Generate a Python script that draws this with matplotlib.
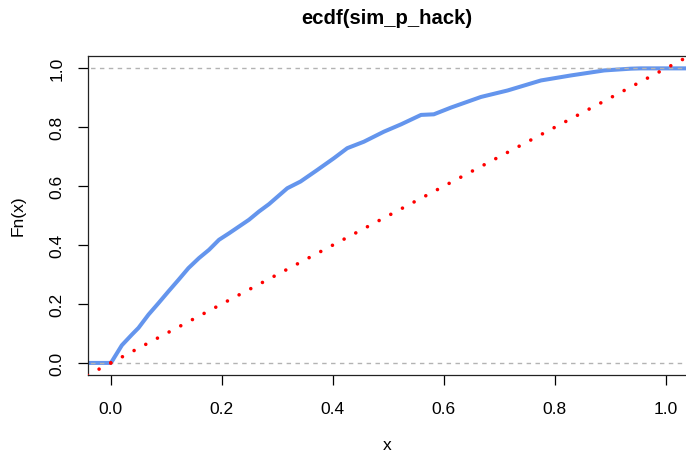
import matplotlib
matplotlib.use("Agg")
import matplotlib.pyplot as plt
import numpy as np

plt.rcParams['font.family'] = ['Liberation Sans', 'DejaVu Sans']
plt.rcParams['lines.scale_dashes'] = False

# ECDF readings (x, Fn(x))
ecdf_x = [-0.05, 0.0, 0.002, 0.02, 0.038, 0.05, 0.068, 0.086, 0.104, 0.122, 0.14,
          0.159, 0.177, 0.195, 0.213, 0.231, 0.249, 0.267, 0.285, 0.318, 0.342,
          0.372, 0.402, 0.426, 0.456, 0.492, 0.523, 0.559, 0.582, 0.613, 0.667,
          0.715, 0.775, 0.829, 0.889, 0.937, 0.955, 1.1]
ecdf_y = [0.0, 0.0, 0.005, 0.06, 0.096, 0.119, 0.164, 0.203, 0.243, 0.282, 0.322,
          0.356, 0.384, 0.418, 0.44, 0.463, 0.486, 0.514, 0.539, 0.593, 0.616,
          0.655, 0.695, 0.729, 0.751, 0.785, 0.81, 0.842, 0.844, 0.867, 0.903,
          0.925, 0.959, 0.976, 0.993, 0.999, 1.0, 1.0]

x_ticks = [0.0, 0.2, 0.4, 0.6, 0.8, 1.0]
y_ticks = [0.0, 0.2, 0.4, 0.6, 0.8, 1.0]
tick_labels_x = ["0.0", "0.2", "0.4", "0.6", "0.8", "1.0"]
tick_labels_y = ["0.0", "0.2", "0.4", "0.6", "0.8", "1.0"]

W, H = 686, 456
fig = plt.figure(figsize=(W / 100, H / 100), dpi=100)
left, right, top, bottom = 88, 688.6, 57, 376
ax = fig.add_axes([left / W, 1 - bottom / H, (right - left) / W, (bottom - top) / H])
ax.set_xlim(-0.041, 1.041)
ax.set_ylim(-0.041, 1.042)

# reference horizontal lines at 0 and 1
for yv in (0.0, 1.0):
    ax.plot([-0.1, 1.2], [yv, yv], color='#B3B3B3', lw=1.0, linestyle=(0, (3.2, 3.2)), zorder=3)

# ECDF line
ax.plot(ecdf_x, ecdf_y, color='#6495ED', lw=2.9, solid_joinstyle='round', zorder=2)

# y = x dotted reference line
ax.plot([0, 1.2], [0, 1.2], color='red', lw=2.6, linestyle=(0, (0.01, 9.5)),
        dash_capstyle='round', zorder=4)
ax.plot([0, -0.2], [0, -0.2], color='red', lw=2.6, linestyle=(0, (0.01, 9.5)),
        dash_capstyle='round', zorder=4)

for s in ['left', 'top', 'bottom', 'right']:
    ax.spines[s].set_linewidth(0.9)
    ax.spines[s].set_color('#222222')

ax.set_xticks(x_ticks)
ax.set_xticklabels(tick_labels_x)
ax.set_yticks(y_ticks)
ax.set_yticklabels(tick_labels_y, rotation=90, va='center')
ax.tick_params(axis='both', length=7, width=0.9, labelsize=12.5, colors='black')
ax.tick_params(axis='x', pad=12)
ax.tick_params(axis='y', pad=10)

fig.text(387 / W, 1 - 18.5 / H, "ecdf(sim_p_hack)", ha='center', va='center',
         fontsize=14.6, fontweight='bold')
fig.text(387 / W, 1 - 446 / H, "x", ha='center', va='center', fontsize=12.5)
fig.text(18 / W, 1 - 216 / H, "Fn(x)", ha='center', va='center', fontsize=12.5, rotation=90)

fig.savefig("out.png", dpi=100)
